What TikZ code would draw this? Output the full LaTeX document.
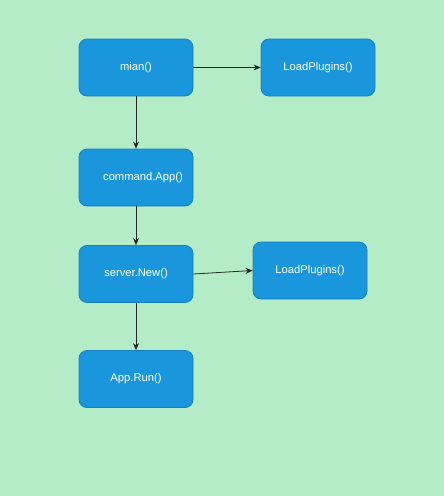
\documentclass[tikz,border=0pt]{standalone}
\usepackage{fontspec}
\setmainfont{Liberation Sans}
\usetikzlibrary{arrows.meta}
\definecolor{bggreen}{HTML}{B5ECC8}
\definecolor{boxblue}{HTML}{1A96DD}
\definecolor{boxedge}{HTML}{167FBD}
\tikzset{
  callbox/.style={draw=boxedge, line width=0.8pt, fill=boxblue, rounded corners=8pt,
    minimum width=114pt, minimum height=57pt, inner sep=0pt, text=white,
    font=\fontsize{11.2}{13}\selectfont},
  flow/.style={line width=0.8pt, black!85, -{Stealth[length=7pt,width=6pt]}}
}
\begin{document}
\begin{tikzpicture}[x=1pt,y=-1pt]
\fill[bggreen] (0,0) rectangle (444,496);
\useasboundingbox (0,0) rectangle (444,496);
\node[callbox] (mian) at (136,67.5) {mian()};
\node[callbox, text width=114pt, align=center] (cmdapp) at (136,177.5) {\hspace*{14pt}command.App()};
\node[callbox] (loadA) at (318,67.5) {LoadPlugins()};
\node[callbox] (srvnew) at (136,274) {server.New()};
\node[callbox] (loadB) at (310,270.5) {LoadPlugins()};
\node[callbox] (apprun) at (136,379) {App.Run()};
\draw[flow] (mian) -- (loadA);
\draw[flow] (mian) -- (cmdapp);
\draw[flow] (cmdapp) -- (srvnew);
\draw[flow] (srvnew.east) -- (loadB.west);
\draw[flow] (srvnew) -- (apprun);
\end{tikzpicture}
\end{document}
